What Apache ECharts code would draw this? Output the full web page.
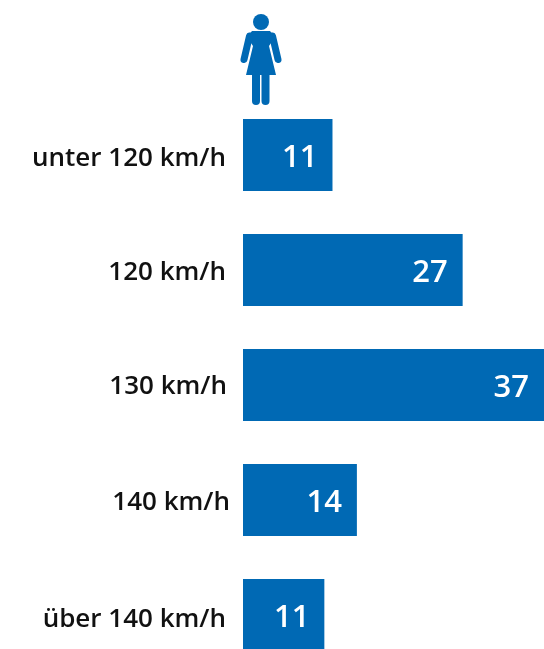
<!DOCTYPE html>
<html><head><meta charset="utf-8">
<style>html,body{margin:0;padding:0;background:#fff;overflow:hidden}#c{width:544px;height:649px}</style>
<script src="https://cdn.jsdelivr.net/npm/echarts@6/dist/echarts.min.js"></script>
</head><body><div id="c"></div>
<script>
const categories = ['unter 120 km/h','120 km/h','130 km/h','140 km/h','über 140 km/h'];
const barLengths = [11, 27, 37, 14, 10];
const printedValues = [11, 27, 37, 14, 11];
const labelGapRight = [4, 4, 3, 0, 4];
const labelDropDown = [4, 3, 2, 3, 5];
const blue = '#0069B4';
const font = '"Open Sans","Noto Sans",sans-serif';
const chart = echarts.init(document.getElementById('c'), null, {renderer:'canvas'});
const limb = (x1,y1,x2,y2,w)=>({type:'line', shape:{x1,y1,x2,y2}, style:{stroke:blue, lineWidth:w, lineCap:'round'}});
const rich = {};
categories.forEach((c,i)=>{
  rich['c'+i] = {color:'#111', fontFamily:font, fontWeight:600, fontSize:26,
    padding:[labelDropDown[i]*2, labelGapRight[i], 0, 0]};
});
chart.setOption({
  animation:false,
  backgroundColor:'#fff',
  grid:{left:243, top:97.5, width:301, height:575, outerBoundsMode:'none'},
  xAxis:{type:'value', min:0, max:37, show:false},
  yAxis:{type:'category', inverse:true,
    data:categories,
    axisLine:{show:false}, axisTick:{show:false},
    axisLabel:{margin:13, rich, formatter:(v,i)=>'{c'+i+'|'+v+'}'}},
  series:[{type:'bar', barWidth:72,
    data:barLengths,
    itemStyle:{color:blue},
    label:{show:true, position:'insideRight', distance:15, offset:[0,3], color:'#fff',
      fontFamily:font, fontWeight:600, fontSize:31,
      formatter:p=>String(printedValues[p.dataIndex])}}],
  graphic:[{type:'group', silent:true, children:[
    {type:'circle', shape:{cx:261, cy:22, r:8}, style:{fill:blue}},
    {type:'polygon', shape:{points:[[252,31],[270,31],[275,37],[269,46],[276,75],[246,75],[253,46],[247,37]]}, style:{fill:blue}},
    limb(249.5,36,244,59.5,7), limb(272.5,36,278,59.5,7),
    limb(256,75,256,101,8), limb(265.5,75,265.5,101,8)
  ]}]
});
</script></body></html>
